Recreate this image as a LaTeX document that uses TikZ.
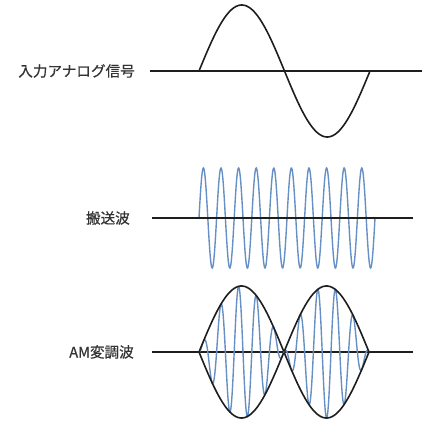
\documentclass[tikz,border=0pt]{standalone}
\usepackage{fontspec}
\usepackage{xcolor}
\usepackage{tikz}
\usetikzlibrary{positioning}
\newfontfamily\jpfont[FakeBold=0.6]{Noto Sans CJK JP}
\definecolor{wavegray}{HTML}{1E1E1E}
\definecolor{carrierblue}{HTML}{6690C4}
\definecolor{labelgray}{HTML}{333333}
\tikzset{
  sigtext/.style={anchor=east, text=labelgray, font=\jpfont\fontsize{14.6}{17}\selectfont, inner sep=0pt},
  axis/.style={draw=wavegray, line width=1.6pt},
  signal/.style={draw=wavegray, line width=1.6pt},
  carrier/.style={draw=carrierblue, line width=1.4pt}
}

\begin{document}
\begin{tikzpicture}[x=1pt, y=1pt]
  \useasboundingbox (0,0) rectangle (432,424);

  % input analog signal
  \node[sigtext] (in) at (135,353) {入力アナログ信号};
  \coordinate (inA) at (150,353);
  \coordinate (inB) at (422,353);
  \draw[axis] (inA) -- (inB);
  \draw[signal] plot[domain=199:370, samples=120] (\x, {353+66*sin((\x-199)/171*360)});

  % carrier
  \node[sigtext] (car) at (130,206) {搬送波};
  \coordinate (carA) at (152,206);
  \coordinate (carB) at (413,206);
  \draw[carrier] plot[domain=199:375, samples=400] (\x, {206+50*sin((\x-199)/17.6*360)});
  \draw[axis] (carA) -- (carB);

  % AM modulated wave
  \node[sigtext] (am) at (134,72) {AM変調波};
  \coordinate (amA) at (152,72);
  \coordinate (amB) at (413,72);
  \draw[axis] (amA) -- (amB);
  \draw[carrier] plot[domain=199:369, samples=500] (\x, {72+66*sin((\x-199)/170*360)*sin((\x-199)/17.6*360)});
  \draw[signal] plot[domain=199:369, samples=160] (\x, {72+66*abs(sin((\x-199)/170*360))});
  \draw[signal] plot[domain=199:369, samples=160] (\x, {72-66*abs(sin((\x-199)/170*360))});
\end{tikzpicture}
\end{document}
